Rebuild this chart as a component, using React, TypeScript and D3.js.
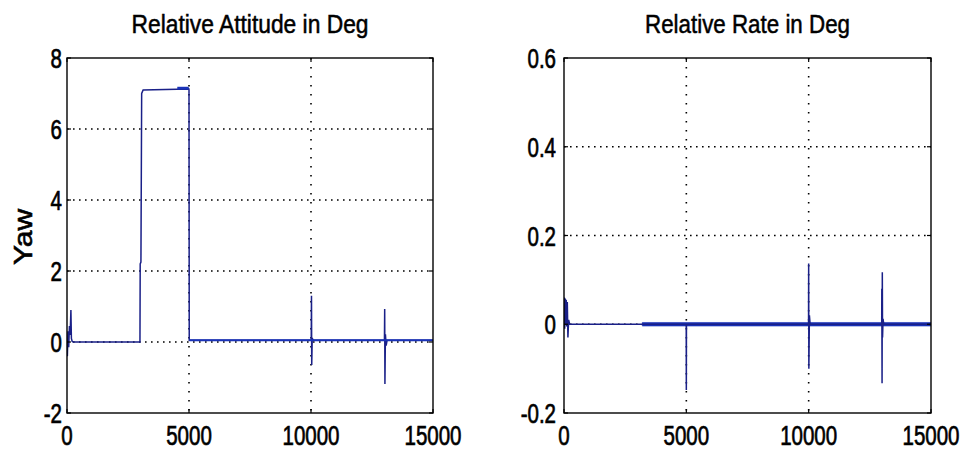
import React from 'react';
import * as d3 from 'd3';

// ---------- data ----------
const xTicks = [0, 5000, 10000, 15000];
const xTickLabels = ['0', '5000', '10000', '15000'];

const yawTicks = [-2, 0, 2, 4, 6, 8];
const yawTickLabels = ['-2', '0', '2', '4', '6', '8'];

const rateTicks = [-0.2, 0, 0.2, 0.4, 0.6];
const rateTickLabels = ['-0.2', '0', '0.2', '0.4', '0.6'];

// Relative attitude (yaw, deg) vs time
const yawTrace: [number, number][] = [
  [0, 0], [15, -0.4], [40, 0.3], [70, -0.15], [100, 0.45], [130, 0.2], [160, 0.9],
  [180, 0.1], [210, 0.02], [250, 0],
  [2990, 0], [3000, 2.2], [3030, 2.25], [3060, 7.0], [3120, 7.1],
  [4500, 7.12], [4990, 7.13], [5000, 7.1], [5010, 0.05],
  [10010, 0.05], [10020, 1.3], [10030, -0.65], [10050, 0.1], [10100, 0.05],
  [13010, 0.05], [13020, 0.93], [13030, -1.18], [13050, 0.22], [13080, -0.1], [13120, 0.05],
  [15000, 0.05],
];
// short noisy stretch that shows as a thicker stroke
const yawHoldTime = [4520, 4990];
const yawHoldValue = [7.15, 7.15];
const yawTailTime = [5010, 15000];
const yawTailValue = [0.05, 0.05];

// Relative rate (deg) vs time
const rateTrace: [number, number][] = [
  [0, 0], [15, 0.06], [30, -0.01], [50, 0.058], [70, 0.0], [90, 0.055], [110, -0.005],
  [135, 0.05], [160, -0.03], [190, 0.01], [230, 0],
  [4995, 0], [5000, -0.148], [5005, 0],
  [9995, 0], [10000, 0.137], [10008, -0.1], [10030, 0.02], [10060, 0],
  [12985, 0], [12990, 0.08], [13000, -0.133], [13010, 0.117], [13020, -0.03],
  [13040, 0.012], [13070, 0],
  [15000, 0],
];
const rateBandTime = [3200, 15000];
const rateBandLow = [-0.004, -0.004];
const rateBandHigh = [0.004, 0.004];

// ---------- component ----------
const FONT = '"Liberation Sans", Arial, Helvetica, sans-serif';
const LINE = '#1a2088';
const BAND = '#1a33b8';

type PanelProps = {
  id: string;
  x0: number; x1: number; y0: number; y1: number;
  yDomain: [number, number];
  yTicks: number[]; yLabels: string[];
  title: string; titleLen: number;
  trace: [number, number][];
  thick: { t: number[]; v: number[]; w: number }[];
  band?: { t: number[]; lo: number[]; hi: number[] };
  ylabel?: string;
  yLabelGap: number;
};

function Panel(p: PanelProps) {
  const x = d3.scaleLinear().domain([0, 15000]).range([p.x0, p.x1]);
  const y = d3.scaleLinear().domain(p.yDomain).range([p.y1, p.y0]);
  const line = d3.line<[number, number]>().x(d => x(d[0])).y(d => y(d[1]));
  const area = d3.area<number>()
    .x((_, i) => x(p.band!.t[i]))
    .y0((_, i) => y(p.band!.lo[i]))
    .y1((_, i) => y(p.band!.hi[i]));
  const innerX = xTicks.filter(t => t > 0 && t < 15000);
  const innerY = p.yTicks.filter(t => t > p.yDomain[0] && t < p.yDomain[1]);
  const tickLen = 4;
  const sx = 0.76;
  const txt = { fontFamily: FONT, fill: '#000', stroke: '#000', strokeWidth: 0.7 };
  return (
    <g>
      <defs>
        <clipPath id={p.id}>
          <rect x={p.x0} y={p.y0} width={p.x1 - p.x0} height={p.y1 - p.y0} />
        </clipPath>
      </defs>
      {innerY.map(t => (
        <line key={'gy' + t} x1={p.x0} x2={p.x1} y1={y(t)} y2={y(t)}
          stroke="#000" strokeWidth={1.6} strokeDasharray="1.6,4.4" />
      ))}
      {innerX.map(t => (
        <line key={'gx' + t} x1={x(t)} x2={x(t)} y1={p.y0} y2={p.y1}
          stroke="#000" strokeWidth={1.6} strokeDasharray="1.6,7.4" />
      ))}
      <g clipPath={`url(#${p.id})`}>
        {p.band && (
          <path d={area(p.band.t) || ''} fill={BAND} stroke={BAND} strokeWidth={0.6} />
        )}
        <path d={line(p.trace) || ''} fill="none" stroke={LINE} strokeWidth={1.5} />
        {p.thick.map((s, i) => (
          <path key={'th' + i}
            d={line(s.t.map((t, j) => [t, s.v[j]] as [number, number])) || ''}
            fill="none" stroke={BAND} strokeWidth={s.w} />
        ))}
      </g>
      <rect x={p.x0} y={p.y0} width={p.x1 - p.x0} height={p.y1 - p.y0}
        fill="none" stroke="#000" strokeWidth={1.4} />
      {xTicks.map(t => (
        <g key={'tx' + t}>
          <line x1={x(t)} x2={x(t)} y1={p.y1} y2={p.y1 - tickLen} stroke="#000" strokeWidth={1.2} />
          <line x1={x(t)} x2={x(t)} y1={p.y0} y2={p.y0 + tickLen} stroke="#000" strokeWidth={1.2} />
        </g>
      ))}
      {p.yTicks.map(t => (
        <g key={'ty' + t}>
          <line x1={p.x0} x2={p.x0 + tickLen} y1={y(t)} y2={y(t)} stroke="#000" strokeWidth={1.2} />
          <line x1={p.x1} x2={p.x1 - tickLen} y1={y(t)} y2={y(t)} stroke="#000" strokeWidth={1.2} />
        </g>
      ))}
      {xTicks.map((t, i) => (
        <g key={'lx' + t} transform={`translate(${x(t)},${p.y1 + 32}) scale(${sx},1)`}>
          <text textAnchor="middle" fontSize={27} {...txt}>{xTickLabels[i]}</text>
        </g>
      ))}
      {p.yTicks.map((t, i) => (
        <g key={'ly' + t} transform={`translate(${p.x0 - p.yLabelGap},${y(t) + 10}) scale(${sx},1)`}>
          <text textAnchor="end" fontSize={27} {...txt}>{p.yLabels[i]}</text>
        </g>
      ))}
      <text x={(p.x0 + p.x1) / 2} y={33} textAnchor="middle" fontSize={25} {...txt} strokeWidth={0.5}
        textLength={p.titleLen} lengthAdjust="spacingAndGlyphs">{p.title}</text>
      {p.ylabel && (
        <g transform={`translate(32,237) scale(0.85,1) rotate(-90)`}>
          <text textAnchor="middle" fontSize={30} {...txt}>{p.ylabel}</text>
        </g>
      )}
    </g>
  );
}

export default function App() {
  return (
    <svg width={966} height={453} style={{ position: 'absolute', left: 0, top: 0, background: '#fff' }}>
      <rect x={0} y={0} width={966} height={453} fill="#fff" />
      <Panel id="clipL" x0={67} x1={433} y0={58} y1={413} yDomain={[-2, 8]}
        yTicks={yawTicks} yLabels={yawTickLabels}
        title="Relative Attitude in Deg" titleLen={237}
        trace={yawTrace}
        thick={[
          { t: yawHoldTime, v: yawHoldValue, w: 2.8 },
          { t: yawTailTime, v: yawTailValue, w: 2 },
        ]}
        ylabel="Yaw" yLabelGap={5} />
      <Panel id="clipR" x0={564} x1={931} y0={58} y1={413} yDomain={[-0.2, 0.6]}
        yTicks={rateTicks} yLabels={rateTickLabels}
        title="Relative Rate in Deg" titleLen={205}
        trace={rateTrace}
        thick={[]}
        band={{ t: rateBandTime, lo: rateBandLow, hi: rateBandHigh }}
        yLabelGap={8} />
    </svg>
  );
}
